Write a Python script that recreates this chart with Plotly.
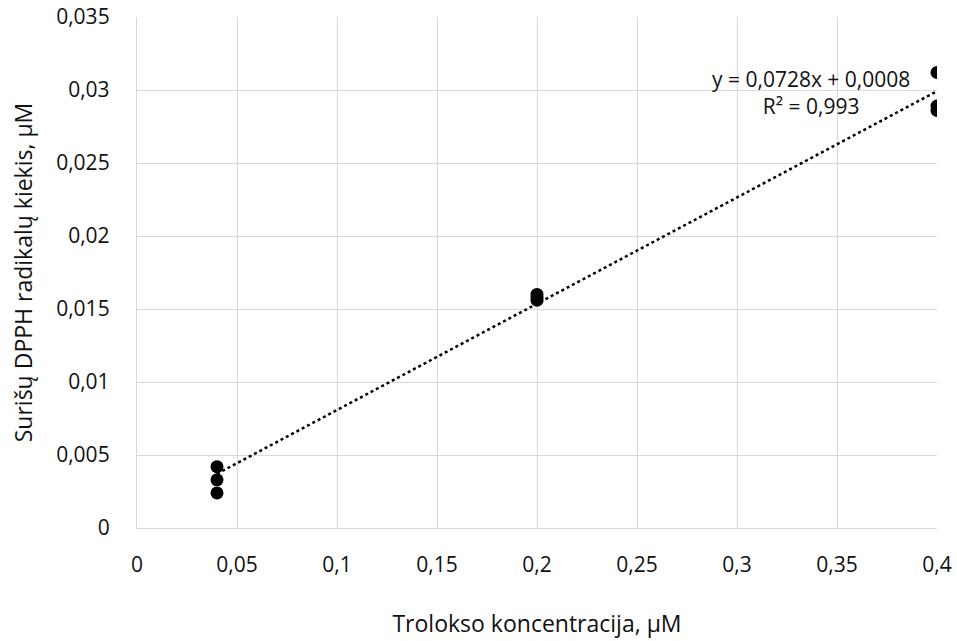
import plotly.graph_objects as go

x_vals = [0.04, 0.04, 0.04, 0.2, 0.2, 0.2, 0.4, 0.4, 0.4]
y_vals = [0.0042, 0.0033, 0.0024, 0.0160, 0.0158, 0.0156, 0.0312, 0.0289, 0.0286]
slope = 0.0728
intercept = 0.0008
trend_x = [0.04, 0.4]
trend_y = [slope * v + intercept for v in trend_x]

FONT = "Open Sans"
TXT = "#111111"

fig = go.Figure()
fig.add_trace(go.Scatter(x=trend_x, y=trend_y, mode="lines",
                         line=dict(color="black", width=2.5, dash="dot"),
                         showlegend=False, hoverinfo="skip"))
fig.add_trace(go.Scatter(x=x_vals, y=y_vals, mode="markers",
                         marker=dict(color="black", size=13),
                         showlegend=False))

fig.add_annotation(x=0.337, y=0.0298, text="y = 0,0728x + 0,0008<br>R² = 0,993", showarrow=False,
                   xanchor="center", yanchor="middle", align="center",
                   font=dict(size=21, color=TXT, family=FONT))

fig.update_layout(
    width=957, height=641,
    margin=dict(l=137, r=20, t=17, b=113),
    paper_bgcolor="white", plot_bgcolor="white",
    separators=", ",
    font=dict(family=FONT, size=21, color=TXT),
    xaxis=dict(range=[0, 0.4], dtick=0.05, tick0=0, showgrid=True, gridcolor="#d9d9d9",
               gridwidth=1.3, zeroline=False, showline=True, linecolor="#d9d9d9", linewidth=1.3,
               ticks="", ticklabelstandoff=18, tickfont=dict(size=21), automargin=False,
               title=dict(text="Trolokso koncentracija, µM", font=dict(size=23), standoff=38)),
    yaxis=dict(range=[0, 0.035], dtick=0.005, tick0=0, showgrid=True, gridcolor="#d9d9d9",
               gridwidth=1.3, zeroline=False, showline=True, linecolor="#d9d9d9", linewidth=1.3,
               ticks="", ticklabelstandoff=22, tickfont=dict(size=21), automargin=False,
               title=dict(text="Surišų DPPH radikalų kiekis, µM", font=dict(size=23), standoff=17)),
)

fig.write_html("out.html")
